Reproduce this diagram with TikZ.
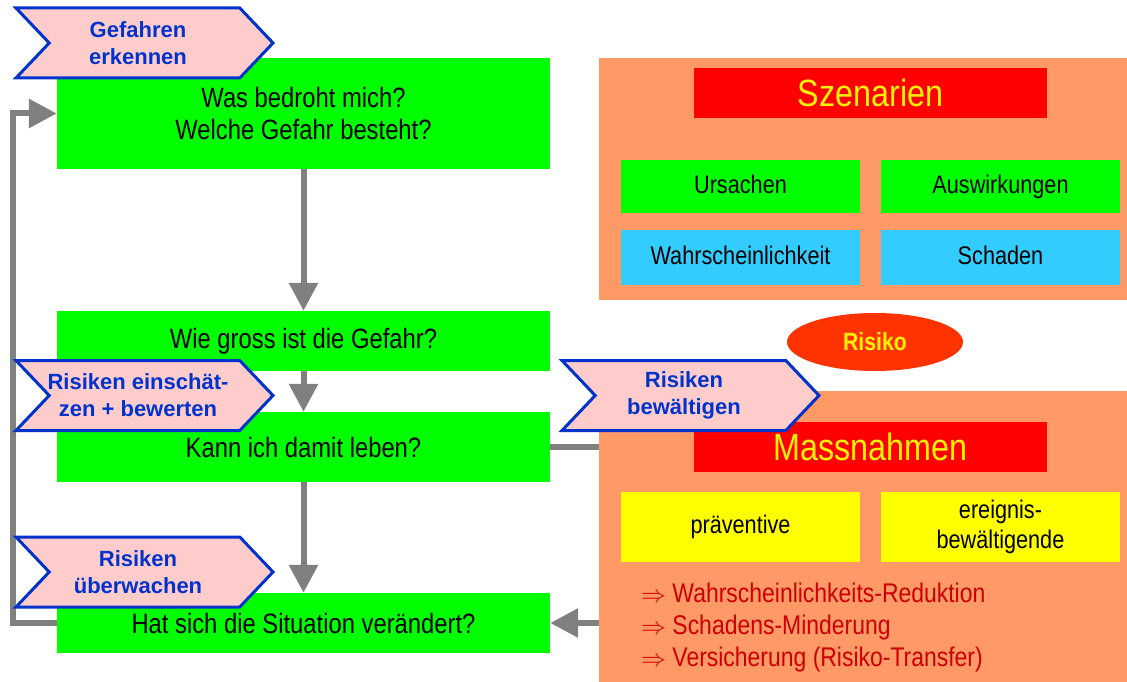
\documentclass[tikz,border=0pt]{standalone}
\usepackage{fontspec}
\setmainfont{Liberation Sans}
\newfontfamily\narrow[FakeStretch=0.85]{Liberation Sans}
\usetikzlibrary{shapes.symbols,shapes.geometric,arrows.meta}

\definecolor{boxgreen}{HTML}{00FF00}
\definecolor{boxcyan}{HTML}{33CCFF}
\definecolor{boxyellow}{HTML}{FFFF00}
\definecolor{panelorange}{HTML}{FF9966}
\definecolor{risikored}{HTML}{FF3300}
\definecolor{chevfill}{HTML}{FFCCCC}
\definecolor{chevblue}{HTML}{0033CC}
\definecolor{listred}{HTML}{CC0000}
\definecolor{flowgray}{HTML}{808080}

% line in a phase arrow, a little left of the middle
\newcommand{\pz}[1]{\hspace*{-13pt}#1}

\begin{document}
\begin{tikzpicture}[x=1pt, y=-1pt,
    frage/.style={fill=boxgreen, minimum width=493pt, align=center, inner sep=0pt,
        font=\narrow\fontsize{28}{32}\selectfont},
    feld/.style={fill=panelorange, inner sep=0pt},
    titel/.style={fill=red, text=yellow, minimum width=353pt, minimum height=50pt,
        inner sep=0pt, font=\narrow\fontsize{38}{40}\selectfont},
    teil/.style={minimum width=239pt, align=center, inner sep=0pt,
        execute at begin node={\vphantom{Ag}},
        font=\narrow\fontsize{25.5}{30}\selectfont},
    phase/.style={signal, signal from=west, signal to=east, signal pointer angle=93,
        draw=chevblue, line width=3pt, fill=chevfill, text=chevblue, align=center,
        minimum width=257pt, minimum height=70pt, inner sep=0pt,
        font=\bfseries\fontsize{22}{27}\selectfont},
    fluss/.style={draw=flowgray, line width=6pt},
    pfeil/.style={fluss, -{Triangle[width=28pt,length=28pt]}}]

        \useasboundingbox (0,0) rectangle (1127,682);

        % right panels
        \node[feld, minimum width=528pt, minimum height=242pt] (szen) at (863,179) {};
        \node[feld, minimum width=528pt, minimum height=291pt] (mass) at (863,536.5) {};

        % questions
        \node[frage, minimum height=111pt] (was) at (303.5,113.5) {Was bedroht mich?\\Welche Gefahr besteht?};
        \node[frage, minimum height=60pt] (wie) at (303.5,341) {Wie gross ist die Gefahr?};
        \node[frage, minimum height=70pt] (kann) at (303.5,447) {Kann ich damit leben?};
        \node[frage, minimum height=60pt] (hat) at (303.5,623) {Hat sich die Situation verändert?};

        % flow
        \draw[pfeil] (was.south) -- (wie.north);
        \draw[pfeil] (wie.south) -- (kann.north);
        \draw[pfeil] (kann.south) -- (hat.north);
        \draw[pfeil] (hat.west) -- ++(-44,0) |- (was.west);
        \draw[fluss] (kann.east) -- (kann.east -| mass.west);
        \draw[pfeil] (hat.east -| mass.west) -- (hat.east);

        % szenarien
        \node[titel] (szentitel) at (870.5,93) {Szenarien};
        \node[teil, fill=boxgreen, minimum height=53pt] (urs) at (740.5,186.5) {Ursachen};
        \node[teil, fill=boxgreen, minimum height=53pt] (ausw) at (1000.5,186.5) {Auswirkungen};
        \node[teil, fill=boxcyan, minimum height=55pt] (wahr) at (740.5,257.5) {Wahrscheinlichkeit};
        \node[teil, fill=boxcyan, minimum height=55pt] (schad) at (1000.5,257.5) {Schaden};

        % risiko
        \node[ellipse, fill=risikored, text=yellow, minimum width=176pt, minimum height=58pt,
            inner sep=0pt, font=\narrow\bfseries\fontsize{25}{28}\selectfont] (risiko) at (875,342) {Risiko};

        % massnahmen
        \node[titel] (masstitel) at (870.5,447) {Massnahmen};
        \node[teil, fill=boxyellow, minimum height=70pt] (prae) at (740.5,527) {präventive};
        \node[teil, fill=boxyellow, minimum height=70pt] (ereig) at (1000.5,527) {ereignis-\\bewältigende};
        \node[anchor=west, align=left, text=listred, inner sep=0pt,
            font=\narrow\fontsize{27}{32}\selectfont] (liste) at (641,627.5)
            {$\Rightarrow$ Wahrscheinlichkeits-Reduktion\\
             $\Rightarrow$ Schadens-Minderung\\
             $\Rightarrow$ Versicherung (Risiko-Transfer)};

        % phases
        \node[phase] (erkennen) at (144.5,43) {\pz{Gefahren}\\\pz{erkennen}};
        \node[phase, inner xsep=-4pt] (bewerten) at (144.5,395.5) {\pz{Risiken einschät-}\\\pz{zen + bewerten}};
        \node[phase] (bewaeltigen) at (690.5,395.5) {\pz{Risiken}\\\pz{bewältigen}};
        \node[phase] (ueberwachen) at (144.5,572) {\pz{Risiken}\\\pz{überwachen}};
\end{tikzpicture}
\end{document}
